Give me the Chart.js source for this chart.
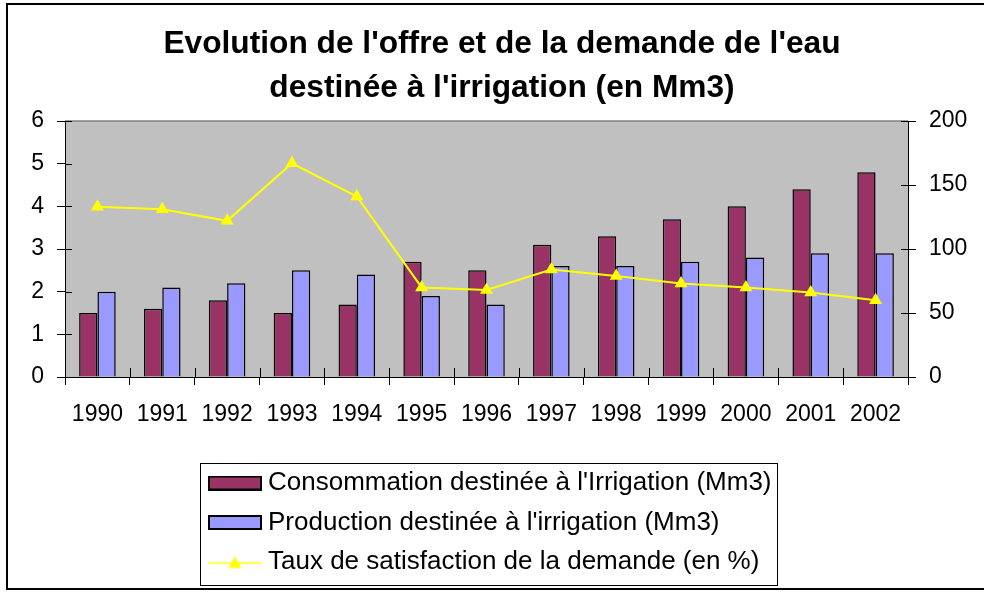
<!DOCTYPE html>
<html>
<head>
<meta charset="utf-8">
<script src="https://cdn.jsdelivr.net/npm/chart.js@4.4.1/dist/chart.umd.min.js"></script>
<style>
  html, body { margin: 0; padding: 0; background: #fff; overflow: hidden; }
  #wrap { position: relative; width: 984px; height: 599px; }
  #frame { position: absolute; left: 6px; top: 3px; width: 1000px; height: 583px; border: 2px solid #000; pointer-events: none; }
</style>
</head>
<body>
<div id="wrap">
  <canvas id="eauChart" width="984" height="599"></canvas>
  <div id="frame"></div>
</div>
<script>
const years = ['1990', '1991', '1992', '1993', '1994', '1995', '1996', '1997', '1998', '1999', '2000', '2001', '2002'];
const consommation = [1.5, 1.6, 1.8, 1.5, 1.7, 2.7, 2.5, 3.1, 3.3, 3.7, 4.0, 4.4, 4.8];
const production = [2.0, 2.1, 2.2, 2.5, 2.4, 1.9, 1.7, 2.6, 2.6, 2.7, 2.8, 2.9, 2.9];
const taux = [133, 131, 122, 167, 141, 70, 68, 84, 79, 73, 70, 66, 60];
const leftTicks = [0, 1, 2, 3, 4, 5, 6];
const rightTicks = [0, 50, 100, 150, 200];
const seriesNames = [
    "Consommation destinée à l'Irrigation (Mm3)",
    "Production destinée à l'irrigation (Mm3)",
    'Taux de satisfaction de la demande (en %)'
];

const FONT = "'Liberation Sans', Arial, sans-serif";
const colCons = '#993366';
const colProd = '#9999FF';
const colTaux = '#FFFF00';

// small pictures for the legend keys
function barSwatch(color) {
    const c = document.createElement('canvas');
    c.width = 54; c.height = 15;
    const g = c.getContext('2d');
    g.fillStyle = '#000';
    g.fillRect(0, 0, 54, 15);
    g.fillStyle = color;
    g.fillRect(2, 2, 50, 11);
    return c;
}
function lineSwatch(color) {
    const c = document.createElement('canvas');
    c.width = 54; c.height = 15;
    const g = c.getContext('2d');
    g.strokeStyle = color;
    g.lineWidth = 1.5;
    g.beginPath(); g.moveTo(0, 8.5); g.lineTo(54, 8.5); g.stroke();
    g.fillStyle = color;
    g.beginPath(); g.moveTo(27, 2); g.lineTo(33.5, 13.5); g.lineTo(20.5, 13.5); g.closePath(); g.fill();
    return c;
}
const swatches = [barSwatch(colCons), barSwatch(colProd), lineSwatch(colTaux)];

const plotDecor = {
    id: 'plotDecor',
    afterLayout(chart) {
        const lg = chart.legend;
        lg.left = 201.5;
        lg.right = 780;
        lg.width = lg.right - lg.left;
    },
    beforeDraw(chart) {
        const {ctx, chartArea: a} = chart;
        ctx.save();
        ctx.fillStyle = '#C0C0C0';
        ctx.fillRect(a.left, a.top, a.right - a.left, a.bottom - a.top);
        ctx.strokeStyle = '#808080';
        ctx.lineWidth = 1.5;
        ctx.beginPath(); ctx.moveTo(a.left, a.top); ctx.lineTo(a.right, a.top); ctx.stroke();
        ctx.restore();
    },
    beforeDatasetsDraw(chart) {
        // inner half of the crossing tick marks
        const {ctx, chartArea: a, scales} = chart;
        ctx.save();
        ctx.strokeStyle = '#000';
        ctx.lineWidth = 1;
        ctx.beginPath();
        scales.y.ticks.forEach((t, i) => {
            const p = Math.round(scales.y.getPixelForTick(i)) + 0.5;
            ctx.moveTo(a.left, p); ctx.lineTo(a.left + 7, p);
        });
        scales.y1.ticks.forEach((t, i) => {
            const p = Math.round(scales.y1.getPixelForTick(i)) + 0.5;
            ctx.moveTo(a.right, p); ctx.lineTo(a.right - 7, p);
        });
        const n = scales.x.ticks.length;
        const step = (a.right - a.left) / n;
        for (let i = 1; i < n; i++) {
            const p = Math.round(a.left + i * step) + 0.5;
            ctx.moveTo(p, a.bottom); ctx.lineTo(p, a.bottom - 9);
        }
        ctx.stroke();
        ctx.restore();
    },
    afterDraw(chart) {
        const boxes = chart.legend.legendHitBoxes;
        if (!boxes || !boxes.length) return;
        const ctx = chart.ctx;
        let right = 0;
        boxes.forEach(b => { right = Math.max(right, b.left + b.width); });
        const top = boxes[0].top - 7.5;
        const last = boxes[boxes.length - 1];
        const bottom = last.top + last.height + 9.5;
        ctx.save();
        ctx.strokeStyle = '#000';
        ctx.lineWidth = 1;
        ctx.strokeRect(200.5, Math.round(top) + 0.5, Math.round(right + 6) - 200, Math.round(bottom - top));
        ctx.restore();
    }
};

new Chart(document.getElementById('eauChart'), {
    type: 'bar',
    data: {
        labels: years,
        datasets: [
            {
                label: seriesNames[0],
                data: consommation,
                backgroundColor: colCons,
                borderColor: '#000',
                borderWidth: 1.5,
                yAxisID: 'y',
                order: 1,
                barPercentage: 1,
                categoryPercentage: 0.564
            },
            {
                label: seriesNames[1],
                data: production,
                backgroundColor: colProd,
                borderColor: '#000',
                borderWidth: 1.5,
                yAxisID: 'y',
                order: 1,
                barPercentage: 1,
                categoryPercentage: 0.564
            },
            {
                type: 'line',
                label: seriesNames[2],
                data: taux,
                borderColor: colTaux,
                backgroundColor: colTaux,
                borderWidth: 2,
                pointStyle: 'triangle',
                pointRadius: 7.5,
                pointBorderWidth: 0,
                tension: 0,
                yAxisID: 'y1',
                order: 0
            }
        ]
    },
    options: {
        responsive: false,
        animation: false,
        devicePixelRatio: 1,
        layout: { padding: { left: 20, right: 0, top: 22.5, bottom: 14 } },
        scales: {
            x: {
                grid: { drawOnChartArea: false, tickLength: 8, color: '#000', offset: true },
                border: { color: '#000', width: 1 },
                ticks: { color: '#000', font: { family: FONT, size: 23 }, padding: 16, maxRotation: 0, autoSkip: false },
                afterFit(scale) { scale.height = 79.5; }
            },
            y: {
                position: 'left',
                min: leftTicks[0],
                max: leftTicks[leftTicks.length - 1],
                afterBuildTicks(scale) { scale.ticks = leftTicks.map(v => ({ value: v })); },
                grid: { drawOnChartArea: false, tickLength: 8, color: '#000' },
                border: { color: '#000', width: 1 },
                ticks: { color: '#000', font: { family: FONT, size: 23 }, padding: 13 },
                afterFit(scale) { scale.width = 45; }
            },
            y1: {
                position: 'right',
                min: rightTicks[0],
                max: rightTicks[rightTicks.length - 1],
                afterBuildTicks(scale) { scale.ticks = rightTicks.map(v => ({ value: v })); },
                grid: { drawOnChartArea: false, tickLength: 8, color: '#000' },
                border: { color: '#000', width: 1 },
                ticks: { color: '#000', font: { family: FONT, size: 23 }, padding: 13 },
                afterFit(scale) { scale.width = 76; }
            }
        },
        plugins: {
            title: {
                display: true,
                text: ["Evolution de l'offre et de la demande de l'eau", "destinée à l'irrigation (en Mm3)"],
                color: '#000',
                font: { family: FONT, size: 31.7, weight: 'bold', lineHeight: 44 / 31.7 },
                padding: { top: 0, bottom: 10.5 }
            },
            legend: {
                position: 'bottom',
                align: 'start',
                labels: {
                    color: '#000',
                    font: { family: FONT, size: 26 },
                    usePointStyle: true,
                    pointStyleWidth: 40,
                    padding: 13.5,
                    generateLabels: chart => chart.data.datasets.map((ds, i) => ({
                        text: ds.label,
                        pointStyle: swatches[i],
                        datasetIndex: i,
                        hidden: false,
                        lineWidth: 0,
                        fillStyle: 'transparent',
                        strokeStyle: 'transparent'
                    }))
                }
            },
            tooltip: { enabled: false }
        }
    },
    plugins: [plotDecor]
});
</script>
</body>
</html>
